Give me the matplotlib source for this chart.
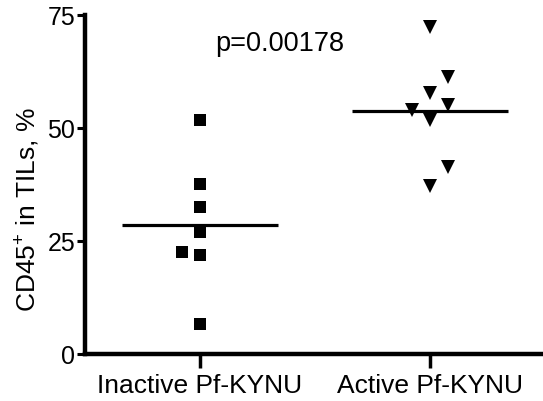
import matplotlib
matplotlib.use('Agg')
import matplotlib.pyplot as plt
import numpy as np

plt.rcParams['font.family'] = ['Liberation Sans', 'DejaVu Sans']
plt.rcParams['mathtext.fontset'] = 'custom'
plt.rcParams['mathtext.rm'] = 'Liberation Sans'
plt.rcParams['mathtext.it'] = 'Liberation Sans'

# datos
grupos = ['Inactive Pf-KYNU', 'Active Pf-KYNU']
inactivo = [51.8, 37.6, 32.4, 26.9, 22.5, 21.9, 6.6]
activo = [72.2, 61.2, 57.7, 55.1, 53.9, 51.8, 41.4, 37.2]
jitterInactivo = [0, 0, 0, 0, -0.08, 0, 0]
jitterActivo = [0, 0.08, 0, 0.08, -0.08, 0, 0.08, 0]
yTicks = [0, 25, 50, 75]
pTexto = 'p=0.00178'

W, H = 543, 402
fig = plt.figure(figsize=(W / 100, H / 100), dpi=100)
ax = fig.add_axes([85 / W, 47 / H, 460 / W, 339.3 / H])

ax.plot(np.array(jitterInactivo) + 0, inactivo, 's', color='black', ms=8, mew=0, clip_on=False)
ax.plot(np.array(jitterActivo) + 1, activo, 'v', color='black', ms=9.5, mew=0, clip_on=False)

# lineas de la media
for i, valores in enumerate([inactivo, activo]):
    ax.hlines(np.mean(valores), i - 0.34, i + 0.34, color='black', lw=2.3)

ax.set_xlim(-0.5, 1.5)
ax.set_ylim(0, 75)
ax.set_xticks([0, 1])
ax.set_xticklabels(grupos, fontsize=19)
ax.set_yticks(yTicks)
ax.set_yticklabels([str(t) for t in yTicks], fontsize=18)

for lado in ['top', 'right']:
    ax.spines[lado].set_visible(False)
for lado in ['left', 'bottom']:
    ax.spines[lado].set_linewidth(3.2)
ax.tick_params(axis='y', length=6, width=2.2, pad=1)
ax.tick_params(axis='x', length=10, width=2.5, pad=4)

fig.text(28 / W, 1 - 210 / H, 'CD45$^{+}$ in TILs, %', rotation=90, ha='center', va='center', fontsize=19)
fig.text(215 / W, 1 - 51 / H, pTexto, ha='left', va='baseline', fontsize=19.5)

fig.savefig('out.png', dpi=100)
